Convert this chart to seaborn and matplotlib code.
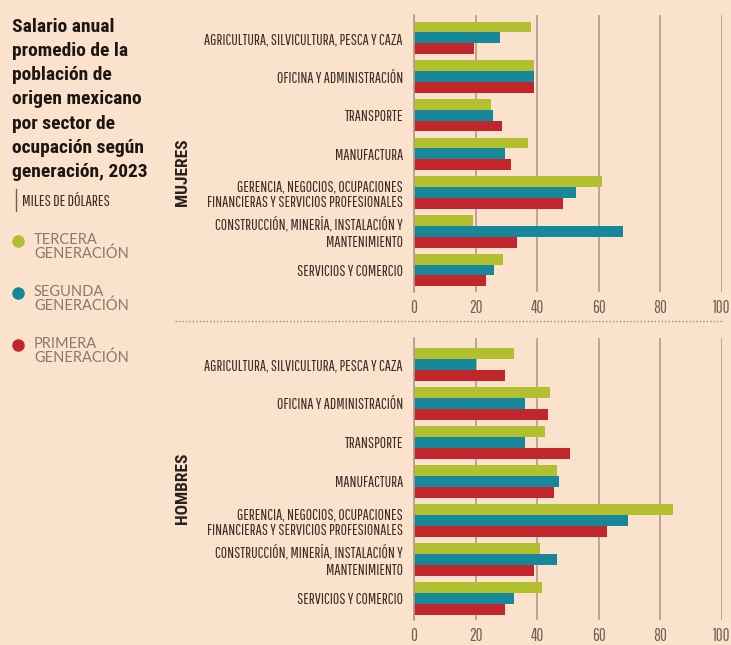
import pandas as pd
import matplotlib.pyplot as plt
import seaborn as sns
from matplotlib.lines import Line2D

# Sectores y valores (miles de dólares)
sectores = [
    "AGRICULTURA, SILVICULTURA, PESCA Y CAZA",
    "OFICINA Y ADMINISTRACIÓN",
    "TRANSPORTE",
    "MANUFACTURA",
    "GERENCIA, NEGOCIOS, OCUPACIONES\nFINANCIERAS Y SERVICIOS PROFESIONALES",
    "CONSTRUCCIÓN, MINERÍA, INSTALACIÓN Y\nMANTENIMIENTO",
    "SERVICIOS Y COMERCIO",
]
generaciones = ["TERCERA\nGENERACIÓN", "SEGUNDA\nGENERACIÓN", "PRIMERA\nGENERACIÓN"]

mujeres_tercera = [38, 39, 25, 37, 61, 19, 29]
mujeres_segunda = [28, 39, 25.5, 29.5, 52.5, 68, 26]
mujeres_primera = [19.5, 39, 28.5, 31.5, 48.5, 33.5, 23.5]

hombres_tercera = [32.5, 44, 42.5, 46.5, 84, 41, 41.5]
hombres_segunda = [20, 36, 36, 47, 69.5, 46.5, 32.5]
hombres_primera = [29.5, 43.5, 50.5, 45.5, 62.5, 39, 29.5]

colores = ["#b2c02f", "#17879a", "#c1262c"]
fondo = "#fbe2cd"
texto_cat = "#3b2e26"
condensada = ["Roboto Condensed", "DejaVu Sans"]
estrecha = ["Pathway Gothic One", "Roboto Condensed", "DejaVu Sans"]
ligera = ["Lato", "DejaVu Sans"]


def tabla(t, s, p):
    filas = []
    for gen, vals in zip(generaciones, [t, s, p]):
        for sec, v in zip(sectores, vals):
            filas.append({"sector": sec, "generacion": gen, "valor": v})
    return pd.DataFrame(filas)


sns.set_style("white")
plt.rcParams["font.family"] = condensada

fig = plt.figure(figsize=(7.31, 6.45), dpi=100)
fig.patch.set_facecolor(fondo)

W, H = 731, 645
paneles = [
    (mujeres_tercera, mujeres_segunda, mujeres_primera, 15, 292, -0.59, 6.57),
    (hombres_tercera, hombres_segunda, hombres_primera, 338, 620, -0.67, 6.56),
]
for t, s, p, ytop, ybot, lim_top, lim_bot in paneles:
    ax = fig.add_axes([414 / W, 1 - ybot / H, (722 - 414) / W, (ybot - ytop) / H])
    ax.set_facecolor(fondo)
    sns.barplot(data=tabla(t, s, p), y="sector", x="valor", hue="generacion",
                palette=colores, width=0.84, orient="h", ax=ax, legend=False,
                saturation=1, linewidth=0)
    ax.set_xlim(0, 100)
    ax.set_ylim(lim_bot, lim_top)
    ax.set_xticks([0, 20, 40, 60, 80, 100])
    ax.set_xticklabels(["0", "20", "40", "60", "80", "100"])
    ax.xaxis.grid(True, color="#b09c8a", linewidth=1.2)
    ax.set_axisbelow(True)
    for sp in ["top", "right", "bottom"]:
        ax.spines[sp].set_visible(False)
    ax.spines["left"].set_color("#b09c8a")
    ax.spines["left"].set_linewidth(1.2)
    ax.tick_params(axis="both", length=0)
    ax.tick_params(axis="x", pad=6)
    ax.tick_params(axis="y", pad=8)
    for lab in ax.get_yticklabels():
        lab.set_multialignment("right")
        lab.set_family(estrecha)
        lab.set_fontsize(11.2)
        lab.set_color(texto_cat)
        lab.set_linespacing(1.1)
    for lab in ax.get_xticklabels():
        lab.set_family(estrecha)
        lab.set_fontsize(12)
        lab.set_color("#6e5f52")
    ax.set_xlabel("")
    ax.set_ylabel("")

# Etiquetas de panel
fig.text(183 / W, 1 - 172 / H, "MUJERES", rotation=90, ha="center", va="center",
         fontsize=12.5, fontweight="bold", color="#2a211b")
fig.text(183 / W, 1 - 488 / H, "HOMBRES", rotation=90, ha="center", va="center",
         fontsize=12.5, fontweight="bold", color="#2a211b")

# Separador punteado
fig.add_artist(Line2D([175 / W, 722 / W], [1 - 321 / H, 1 - 321 / H],
                      color="#9c8b7c", linewidth=1, linestyle=(0, (1, 1.5))))

# Título
fig.text(12 / W, 1 - 18 / H,
         "Salario anual\npromedio de la\npoblación de\norigen mexicano\npor sector de\nocupación según\ngeneración, 2023",
         ha="left", va="top", fontsize=14, fontweight="bold", color="#1c1612",
         linespacing=1.44)
fig.add_artist(Line2D([16 / W, 16 / W], [1 - 189 / H, 1 - 211 / H],
                      color="#6e5f52", linewidth=1))
fig.text(22 / W, 1 - 201 / H, "MILES DE DÓLARES", ha="left", va="center",
         fontsize=11.5, family=estrecha, color="#3b2e26")

# Leyenda
for i, (gen, c) in enumerate(zip(generaciones, colores)):
    y = 1 - (241 + 52 * i) / H
    fig.add_artist(Line2D([18 / W], [y], marker="o", markersize=8, linestyle="",
                          markerfacecolor=c, markeredgecolor=c))
    fig.text(34 / W, y + 8 / H, gen, ha="left", va="top", fontsize=10.5,
             family=ligera, color="#8a796b", linespacing=1.0)

fig.savefig("out.png", dpi=100, facecolor=fondo)
